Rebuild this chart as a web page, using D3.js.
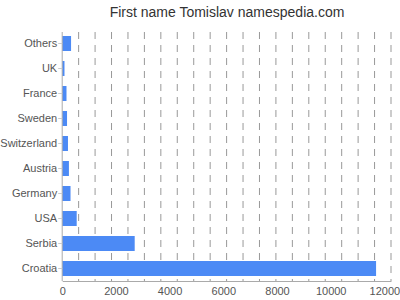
<!DOCTYPE html>
<html><head><meta charset="utf-8">
<script src="https://cdn.jsdelivr.net/npm/d3@7"></script>
<style>body{margin:0;background:#fff}svg{display:block}</style>
</head><body>
<script>
const categories = ["Others","UK","France","Sweden","Switzerland","Austria","Germany","USA","Serbia","Croatia"];
const values = [330, 85, 160, 180, 215, 250, 310, 540, 2700, 11690];
const tickValues = [0,2000,4000,6000,8000,10000,12000];

(function(){
const W=400,H=300;
const FF="Liberation Sans, Arial, sans-serif";
const svg=d3.select("body").append("svg").attr("width",W).attr("height",H).style("font-family",FF);
const mLeft=62.2, mRight=391, mTop=32, mBottom=281;
const xMax=12246;
const x=d3.scaleLinear().domain([0,xMax]).range([mLeft,mRight]);
const y=d3.scaleBand().domain(categories).range([31,281]).paddingInner(0.4).paddingOuter(0.2);

svg.append("text").attr("x",227).attr("y",17).attr("text-anchor","middle").attr("font-size",14).attr("fill","#333").text("First name Tomislav namespedia.com");

const grid=d3.range(1,21).map(i=>i*xMax/20);
svg.append("g").selectAll("line").data(grid).join("line")
 .attr("x1",d=>x(d)).attr("x2",d=>x(d)).attr("y1",mTop).attr("y2",mBottom)
 .attr("stroke","#999").attr("stroke-dasharray","7,6");

svg.append("g").selectAll("rect").data(values).join("rect")
 .attr("x",x(0)).attr("y",(d,i)=>y(categories[i])).attr("width",d=>x(d)-x(0)).attr("height",y.bandwidth())
 .attr("fill","#4c8af5");

const xa=svg.append("g").attr("transform",`translate(0,${mBottom})`)
 .call(d3.axisBottom(x).tickValues(tickValues).tickSize(0).tickPadding(6).tickFormat(d3.format("d")));
xa.select(".domain").attr("stroke","#aaa");
xa.selectAll("text").attr("font-size",11).attr("fill","#555").attr("font-family",FF);

const ya=svg.append("g").attr("transform",`translate(${mLeft},0)`)
 .call(d3.axisLeft(y).tickSize(4).tickPadding(1));
ya.select(".domain").attr("stroke","#aaa").attr("d",`M0,${mTop}V${mBottom}`);
ya.selectAll(".tick line").attr("stroke","#ccc");
ya.selectAll("text").attr("font-size",11).attr("fill","#555").attr("font-family",FF);
})();
</script>
</body></html>
